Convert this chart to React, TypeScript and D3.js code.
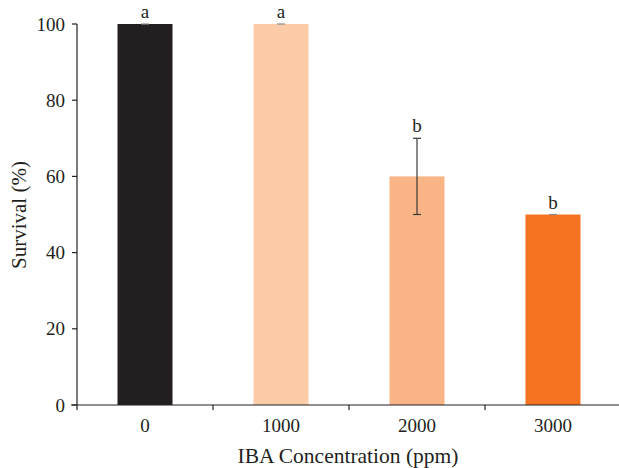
import React from "react";
import * as d3 from "d3";

const categories = ["0", "1000", "2000", "3000"];
const survival = [100, 100, 60, 50];
const errors = [0, 0, 10, 0];
const letters = ["a", "a", "b", "b"];
const colors = ["#231f20", "#fccca8", "#f9b586", "#f47421"];
const yTicks = [0, 20, 40, 60, 80, 100];

const W = 619;
const H = 468;
const FONT = "'Liberation Serif', 'DejaVu Serif', serif";

export default function App() {
  const left = 77;
  const right = 621;
  const top = 24;
  const bottom = 405;

  const x = d3.scaleBand<string>().domain(categories).range([left, right]).padding(0);
  const band = x.bandwidth();
  const y = d3.scaleLinear().domain([0, 100]).range([bottom, top]);
  const barW = 55;
  const cxOf = (c: string) => (x(c) as number) + band / 2;

  return (
    <svg width={W} height={H} style={{ position: "absolute", left: 0, top: 0, background: "#fff" }}>
      {categories.map((c, i) => (
        <rect key={c} x={cxOf(c) - barW / 2} y={y(survival[i])} width={barW} height={bottom - y(survival[i])} fill={colors[i]} />
      ))}
      {categories.map((c, i) => {
        const cx = cxOf(c);
        const e = errors[i];
        if (e === 0) {
          return <line key={c} x1={cx - 4} x2={cx + 4} y1={y(survival[i])} y2={y(survival[i])} stroke="#8a8a8a" strokeWidth={1.2} />;
        }
        const yt = y(survival[i] + e);
        const yb = y(survival[i] - e);
        return (
          <g key={c} stroke="#3a3a3a" strokeWidth={1.2}>
            <line x1={cx} x2={cx} y1={yt} y2={yb} />
            <line x1={cx - 4} x2={cx + 4} y1={yt} y2={yt} />
            <line x1={cx - 4} x2={cx + 4} y1={yb} y2={yb} />
          </g>
        );
      })}
      {categories.map((c, i) => (
        <text key={c} x={cxOf(c)} y={y(survival[i] + errors[i]) - 6} textAnchor="middle" fontFamily={FONT} fontSize={19} fill="#231f20">
          {letters[i]}
        </text>
      ))}
      <line x1={left} x2={left} y1={top} y2={bottom} stroke="#231f20" strokeWidth={1.2} />
      {yTicks.map((t) => (
        <g key={t}>
          <line x1={left - 5} x2={left} y1={y(t)} y2={y(t)} stroke="#231f20" strokeWidth={1.2} />
          <text x={left - 12} y={y(t) + 6.5} textAnchor="end" fontFamily={FONT} fontSize={19} fill="#231f20">
            {t}
          </text>
        </g>
      ))}
      <line x1={left - 6} x2={W} y1={bottom} y2={bottom} stroke="#231f20" strokeWidth={1.2} />
      {d3.range(categories.length + 1).map((k) => (
        <line key={k} x1={left + band * k} x2={left + band * k} y1={bottom} y2={bottom + 5} stroke="#231f20" strokeWidth={1.2} />
      ))}
      {categories.map((c) => (
        <text key={c} x={cxOf(c)} y={432} textAnchor="middle" fontFamily={FONT} fontSize={19} fill="#231f20">
          {c}
        </text>
      ))}
      <text x={348} y={463} textAnchor="middle" fontFamily={FONT} fontSize={21.5} fill="#231f20">
        IBA Concentration (ppm)
      </text>
      <text transform={`translate(26, 215) rotate(-90)`} textAnchor="middle" fontFamily={FONT} fontSize={21} fill="#231f20">
        Survival (%)
      </text>
    </svg>
  );
}
